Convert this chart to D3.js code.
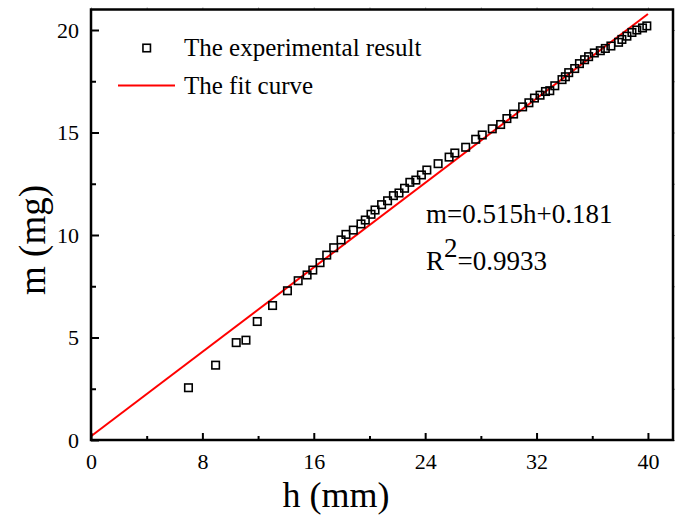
<!DOCTYPE html>
<html>
<head>
<meta charset="utf-8">
<script src="https://cdn.jsdelivr.net/npm/d3@7"></script>
<style>
  html, body { margin: 0; padding: 0; background: #fff; }
  svg text { font-family: "Liberation Serif", "Times New Roman", serif; fill: #000; }
</style>
</head>
<body>
<svg id="chart" width="684" height="515"></svg>
<script>
// Measured height h (mm) and mass m (mg)
const heightMM = [7.0, 8.95, 10.43, 11.13, 11.94, 13.04, 14.11, 14.88, 15.52, 15.93,
  16.45, 16.93, 17.43, 17.96, 18.31, 18.84, 19.39, 19.70, 20.11, 20.40,
  20.87, 21.30, 21.72, 22.12, 22.52, 22.90, 23.33, 23.73, 24.12, 24.93,
  25.72, 26.13, 26.91, 27.63, 28.10, 28.82, 29.42, 29.87, 30.35, 31.00,
  31.45, 31.85, 32.25, 32.64, 32.95, 33.31, 33.83, 34.07, 34.31, 34.74,
  35.08, 35.45, 35.74, 36.15, 36.58, 36.94, 37.34, 37.89, 38.13, 38.49,
  38.85, 39.20, 39.61, 39.92];
const massMG = [2.55, 3.65, 4.75, 4.87, 5.78, 6.56, 7.28, 7.77, 8.05, 8.29,
  8.65, 9.02, 9.38, 9.76, 10.03, 10.24, 10.54, 10.73, 11.01, 11.22,
  11.48, 11.67, 11.92, 12.05, 12.28, 12.57, 12.68, 12.93, 13.17, 13.48,
  13.80, 14.00, 14.28, 14.67, 14.88, 15.18, 15.39, 15.68, 15.90, 16.25,
  16.45, 16.68, 16.82, 17.00, 17.04, 17.28, 17.58, 17.72, 17.92, 18.12,
  18.36, 18.55, 18.70, 18.88, 18.99, 19.10, 19.22, 19.40, 19.54, 19.70,
  19.88, 20.00, 20.10, 20.20];

// Linear fit m = slope*h + intercept, drawn over h in [0, 40]
const fitSlope = 0.515;
const fitIntercept = 0.181;
const fitRange = [0, 40];
const rSquared = "0.9933";

const xTicks = [0, 8, 16, 24, 32, 40];
const xMinorTicks = [4, 12, 20, 28, 36];
const yTicks = [0, 5, 10, 15, 20];
const yMinorTicks = [2.5, 7.5, 12.5, 17.5];

const legendLabels = ["The experimental result", "The fit curve"];

const svg = d3.select("#chart");
const plotL = 91, plotR = 673, plotT = 9.5, plotB = 440;

const x = d3.scaleLinear().domain([0, 41.8]).range([plotL, plotR]);
const y = d3.scaleLinear().domain([0, 21]).range([plotB, plotT]);

// Fit line
const fitPts = fitRange.map(h => [h, fitSlope * h + fitIntercept]);
svg.append("path")
  .datum(fitPts)
  .attr("d", d3.line().x(d => x(d[0])).y(d => y(d[1])))
  .attr("fill", "none")
  .attr("stroke", "#ff0000")
  .attr("stroke-width", 2);

// Experimental points as open squares
const sq = 7.5;
svg.append("g").selectAll("rect")
  .data(heightMM.map((h, i) => [h, massMG[i]]))
  .join("rect")
  .attr("x", d => x(d[0]) - sq / 2)
  .attr("y", d => y(d[1]) - sq / 2)
  .attr("width", sq).attr("height", sq)
  .attr("fill", "none")
  .attr("stroke", "#000")
  .attr("stroke-width", 1.6);

// Axes
const axisW = 2.5;
const gx = svg.append("g").attr("transform", `translate(0,${plotB})`)
  .call(d3.axisBottom(x).tickValues(xTicks).tickSize(-7).tickPadding(14).tickFormat(d3.format("d")));
const gxm = svg.append("g").attr("transform", `translate(0,${plotB})`)
  .call(d3.axisBottom(x).tickValues(xMinorTicks).tickSize(-4).tickFormat(""));
const gy = svg.append("g").attr("transform", `translate(${plotL},0)`)
  .call(d3.axisLeft(y).tickValues(yTicks).tickSize(-8).tickPadding(12).tickFormat(d3.format("d")));
const gym = svg.append("g").attr("transform", `translate(${plotL},0)`)
  .call(d3.axisLeft(y).tickValues(yMinorTicks).tickSize(-5).tickFormat(""));

[gx, gxm, gy, gym].forEach(g => {
  g.select(".domain").remove();
  g.selectAll(".tick line").attr("stroke", "#000").attr("stroke-width", 2);
  g.selectAll(".tick text")
    .style("font-family", "'Liberation Serif', serif")
    .style("font-size", "22px").attr("fill", "#000");
});
gx.selectAll(".tick text").attr("dy", "0.71em").attr("y", 13);

// Short outer ticks along the top and right edges
const gt = svg.append("g").attr("transform", `translate(0,${plotT})`)
  .call(d3.axisTop(x).tickValues(xTicks.concat(xMinorTicks)).tickSize(2).tickFormat(""));
const gr = svg.append("g").attr("transform", `translate(${plotR},0)`)
  .call(d3.axisRight(y).tickValues(yTicks.concat(yMinorTicks)).tickSize(2).tickFormat(""));
[gt, gr].forEach(g => {
  g.select(".domain").remove();
  g.selectAll(".tick line").attr("stroke", "#999").attr("stroke-width", 1);
});

// Frame
svg.append("rect")
  .attr("x", plotL).attr("y", plotT)
  .attr("width", plotR - plotL).attr("height", plotB - plotT)
  .attr("fill", "none").attr("stroke", "#000").attr("stroke-width", axisW);

// Axis titles
svg.append("text")
  .attr("x", 336).attr("y", 507)
  .attr("text-anchor", "middle")
  .style("font-size", "36px")
  .text("h (mm)");
svg.append("text")
  .attr("transform", `translate(45,240) rotate(-90)`)
  .attr("text-anchor", "middle")
  .style("font-size", "37px")
  .text("m (mg)");

// Legend
const lg = svg.append("g");
lg.append("rect")
  .attr("x", 146.7 - sq / 2).attr("y", 48 - sq / 2)
  .attr("width", sq).attr("height", sq)
  .attr("fill", "none").attr("stroke", "#000").attr("stroke-width", 1.6);
lg.append("text").attr("x", 184).attr("y", 56).style("font-size", "25px").text(legendLabels[0]);
lg.append("line")
  .attr("x1", 118).attr("x2", 175).attr("y1", 85.5).attr("y2", 85.5)
  .attr("stroke", "#ff0000").attr("stroke-width", 2);
lg.append("text").attr("x", 184).attr("y", 94).style("font-size", "25px").text(legendLabels[1]);

// Fit equation and R²
svg.append("text").attr("x", 426).attr("y", 223).style("font-size", "27px")
  .text(`m=${fitSlope}h+${fitIntercept}`);
const r2 = svg.append("text").attr("x", 426).attr("y", 270).style("font-size", "27px");
r2.append("tspan").text("R");
r2.append("tspan").attr("dy", -13).text("2");
r2.append("tspan").attr("dy", 13).text(`=${rSquared}`);
</script>
</body>
</html>
